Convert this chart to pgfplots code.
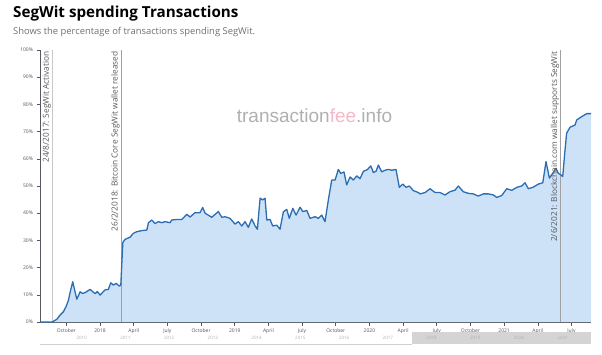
\documentclass[border=0pt]{standalone}
\usepackage{fontspec}
\setmainfont{Open Sans}
\newfontfamily\wmfont{Liberation Sans}
\usepackage{pgfplots}
\usepackage{pgfplotstable}
\pgfplotsset{compat=1.18}
\definecolor{linecol}{HTML}{2A6DB5}
\definecolor{fillcol}{HTML}{CDE2F6}
\definecolor{axiscol}{HTML}{555A60}
\definecolor{ticklab}{HTML}{555555}
\definecolor{subgray}{HTML}{707070}
\definecolor{annot}{HTML}{5A5A5A}
\definecolor{vline}{HTML}{C8C8C8}
\definecolor{wmgray}{HTML}{B0B0B0}
\definecolor{wmpink}{HTML}{F4B8C6}
\definecolor{navgray}{HTML}{D4D4D4}
\definecolor{navlab}{HTML}{B0B0B0}
\definecolor{navline}{HTML}{D0D0D0}

\pgfplotstableread{
x y
2017.554 0
2017.644 0
2017.679 1.0
2017.704 2.6
2017.728 3.8
2017.747 5.6
2017.765 8.0
2017.778 11.0
2017.797 14.8
2017.827 8.4
2017.852 11.1
2017.870 10.5
2017.889 10.8
2017.926 12.0
2017.963 10.4
2017.980 11.2
2018.000 9.9
2018.037 11.8
2018.062 12.0
2018.079 14.4
2018.099 13.6
2018.119 14.2
2018.143 13.2
2018.154 13.6
2018.169 29.2
2018.186 30.4
2018.223 31.2
2018.247 32.6
2018.272 33.2
2018.310 33.6
2018.347 33.8
2018.359 36.5
2018.384 37.5
2018.408 36.2
2018.433 36.9
2018.458 36.5
2018.483 36.9
2018.520 36.5
2018.532 37.5
2018.569 37.7
2018.607 37.7
2018.644 39.6
2018.668 38.6
2018.705 40.2
2018.742 40.2
2018.762 42.1
2018.780 40.0
2018.829 38.5
2018.878 40.6
2018.904 38.5
2018.928 38.7
2018.965 38.1
2019.002 36.0
2019.027 36.9
2019.052 35.3
2019.076 36.9
2019.101 34.8
2019.126 37.9
2019.151 35.3
2019.168 34.1
2019.188 45.5
2019.208 44.9
2019.225 45.5
2019.238 37.5
2019.262 37.7
2019.282 35.3
2019.312 35.6
2019.336 34.1
2019.361 40.5
2019.386 41.4
2019.405 38.1
2019.431 41.8
2019.455 39.3
2019.485 42.2
2019.505 40.6
2019.535 41.0
2019.559 38.1
2019.596 38.7
2019.621 38.1
2019.646 39.3
2019.670 36.9
2019.695 44.9
2019.720 52.2
2019.745 52.2
2019.769 56.1
2019.787 54.6
2019.811 55.2
2019.831 50.4
2019.856 53.3
2019.880 52.2
2019.906 53.7
2019.930 52.7
2019.955 55.4
2019.984 56.0
2020.010 57.4
2020.029 55.0
2020.049 55.4
2020.066 57.7
2020.091 55.2
2020.116 55.8
2020.140 56.1
2020.166 55.8
2020.197 56.1
2020.222 49.5
2020.247 50.7
2020.272 49.5
2020.296 50.0
2020.326 48.3
2020.363 47.6
2020.376 47.1
2020.413 47.6
2020.450 49.0
2020.487 47.6
2020.524 47.6
2020.561 46.7
2020.598 47.9
2020.636 48.5
2020.660 50.0
2020.697 47.9
2020.734 47.3
2020.771 47.1
2020.808 46.3
2020.846 47.1
2020.883 47.1
2020.920 46.7
2020.945 45.8
2020.982 46.5
2021.019 49.0
2021.056 48.4
2021.094 49.5
2021.130 50.0
2021.155 51.2
2021.180 49.0
2021.217 49.6
2021.254 50.7
2021.287 51.2
2021.311 59.0
2021.336 52.9
2021.361 54.7
2021.385 56.5
2021.402 54.7
2021.420 54.1
2021.435 53.5
2021.452 63.2
2021.464 69.4
2021.489 71.6
2021.526 72.4
2021.539 74.3
2021.576 75.5
2021.613 76.6
2021.645 76.6
}\segwit

\begin{document}
\begin{tikzpicture}
\path[use as bounding box] (0,0) rectangle (602pt,354pt);
\node[anchor=base west, inner sep=0] at (13pt,336.7pt)
  {\fontsize{15.2}{17}\selectfont\bfseries SegWit spending Transactions};
\node[anchor=base west, inner sep=0, text=subgray] at (13pt,319.7pt)
  {\fontsize{9.4}{11}\selectfont Shows the percentage of transactions spending SegWit.};

\begin{axis}[
  at={(40pt,32pt)}, anchor=south west,
  scale only axis, width=551pt, height=272pt,
  xmin=2017.554, xmax=2021.645, ymin=0, ymax=100,
  axis lines=left, axis line style={-, draw=axiscol, line width=0.7pt},
  tick align=outside, major tick length=3.5pt,
  tick style={draw=axiscol, line width=0.6pt},
  tick label style={font=\fontsize{5}{6}\selectfont, text=ticklab},
  /pgf/number format/assume math mode=true,
  xtick={2017.75,2018,2018.25,2018.5,2018.75,2019,2019.25,2019.5,2019.75,2020,2020.25,2020.5,2020.75,2021,2021.25,2021.5},
  xticklabels={October,2018,April,July,October,2019,April,July,October,2020,April,July,October,2021,April,July},
  ytick={0,10,20,30,40,50,60,70,80,90,100},
  yticklabels={0\%,10\%,20\%,30\%,40\%,50\%,60\%,70\%,80\%,90\%,100\%},
  clip=false,
]
\addplot[fill=fillcol, draw=none] table[x=x,y=y] {\segwit} \closedcycle;
\addplot[vline, line width=0.7pt] coordinates {(2017.646,0) (2017.646,100)};
\addplot[vline!80!black, line width=0.7pt] coordinates {(2018.156,0) (2018.156,100)};
\addplot[vline!80!black, line width=0.7pt] coordinates {(2021.418,0) (2021.418,100)};
\addplot[linecol, line width=1.3pt, line join=round] table[x=x,y=y] {\segwit};
\node[rotate=90, anchor=south east, inner sep=1.2pt, text=annot, font=\fontsize{8.3}{9}\selectfont]
  at (axis cs:2017.646,100) {24/8/2017: SegWit Activation};
\node[rotate=90, anchor=south east, inner sep=1.2pt, text=annot, font=\fontsize{8.3}{9}\selectfont]
  at (axis cs:2018.156,100) {26/2/2018: Bitcoin Core SegWit wallet released};
\node[rotate=90, anchor=south east, inner sep=1.2pt, text=annot, font=\fontsize{8.3}{9}\selectfont]
  at (axis cs:2021.418,100) {2/6/2021: Blockchain.com wallet supports SegWit};
\node[anchor=base, inner sep=0, font=\wmfont\fontsize{19}{20}\selectfont]
  at (axis cs:2019.592,73.2) {\textcolor{wmgray}{transaction}\textcolor{wmpink}{fee}\textcolor{wmgray}{.info}};
\end{axis}

\begin{axis}[
  at={(40pt,10pt)}, anchor=south west,
  scale only axis, width=551pt, height=12pt,
  xmin=2009.047, xmax=2021.645, ymin=0, ymax=1,
  axis on top,
  axis line style={draw=none}, ytick=\empty,
  xtick={2010,2011,2012,2013,2014,2015,2016,2017,2018,2019,2020,2021},
  xticklabels={2010,2011,2012,2013,2014,2015,2016,2017,2018,2019,2020,2021},
  major tick length=0pt,
  xticklabel style={anchor=center, yshift=6pt, font=\fontsize{4.5}{5}\selectfont, text=navlab},
  clip=false,
]
\addplot[fill=navgray, draw=none] coordinates {(2017.554,1) (2021.645,1)} \closedcycle;
\addplot[navline, line width=0.6pt] coordinates {(2009.047,0) (2017.554,0)};
\end{axis}
\end{tikzpicture}
\end{document}
